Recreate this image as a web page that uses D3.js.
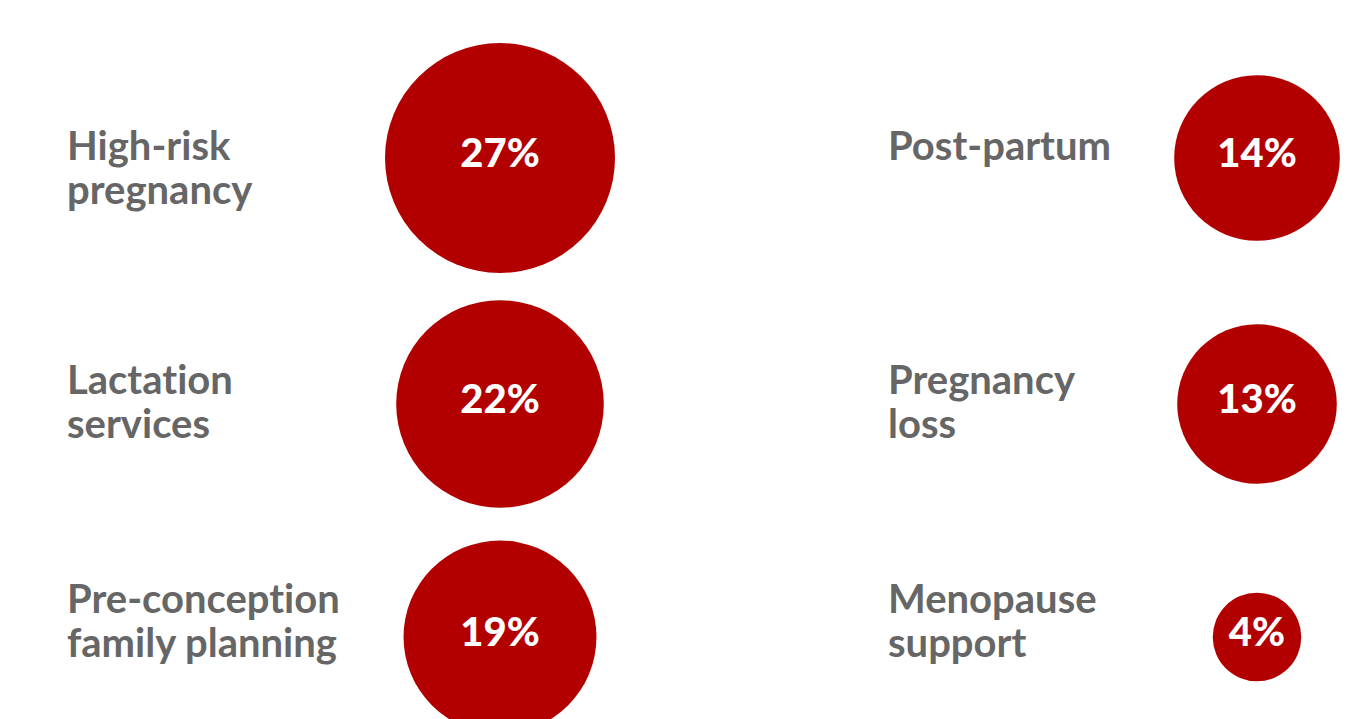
<!DOCTYPE html>
<html>
<head>
<meta charset="utf-8">
<script src="https://cdn.jsdelivr.net/npm/d3@7"></script>
<style>
  html, body { margin: 0; padding: 0; background: #ffffff; }
  svg { display: block; }
  text { font-variant-ligatures: none; font-feature-settings: "liga" 0, "clig" 0; }
</style>
</head>
<body>
<div id="chart"></div>
<script>
// ---- data ----
const categories = [
  "High-risk\npregnancy",
  "Lactation\nservices",
  "Pre-conception\nfamily planning",
  "Post-partum",
  "Pregnancy\nloss",
  "Menopause\nsupport"
];
const values = [27, 22, 19, 14, 13, 4];
const valueLabels = ["27%", "22%", "19%", "14%", "13%", "4%"];

// ---- layout ----
const W = 1365, H = 719;
const svg = d3.select("#chart").append("svg")
  .attr("width", W).attr("height", H);

const data = categories.map((c, i) => ({
  label: c, value: values[i], text: valueLabels[i],
  col: Math.floor(i / 3), row: i % 3
}));

const xLabel = d3.scaleOrdinal().domain([0, 1]).range([67, 888]);
const xCircle = d3.scaleOrdinal().domain([0, 1]).range([500, 1257]);
const yCircle = d3.scaleOrdinal().domain([0, 1, 2]).range([158, 404, 637]);
const yLabel = d3.scaleOrdinal().domain([0, 1, 2]).range([160, 394, 613]);
const r = d3.scaleSqrt().domain([0, 27]).range([0, 115]);

const g = svg.selectAll("g.item").data(data).join("g").attr("class", "item");

g.append("circle")
  .attr("cx", d => xCircle(d.col))
  .attr("cy", d => yCircle(d.row))
  .attr("r", d => r(d.value))
  .attr("fill", "#b20000");

g.append("text")
  .attr("x", d => xCircle(d.col))
  .attr("y", d => yCircle(d.row) + 9)
  .attr("text-anchor", "middle")
  .attr("fill", "#ffffff")
  .attr("font-family", "Lato, 'Open Sans', sans-serif")
  .attr("font-weight", 900)
  .attr("font-size", 40)
  .text(d => d.text);

const lab = g.append("text")
  .attr("x", d => xLabel(d.col))
  .attr("y", d => yLabel(d.row))
  .attr("fill", "#666666")
  .attr("font-family", "Lato, 'Open Sans', sans-serif")
  .attr("font-weight", 700)
  .attr("font-size", 40);

lab.selectAll("tspan")
  .data(d => d.label.split("\n").map(t => ({ t, x: xLabel(d.col) })))
  .join("tspan")
  .attr("x", d => d.x)
  .attr("dy", (d, i) => i === 0 ? 0 : 43.5)
  .text(d => d.t);
</script>
</body>
</html>
